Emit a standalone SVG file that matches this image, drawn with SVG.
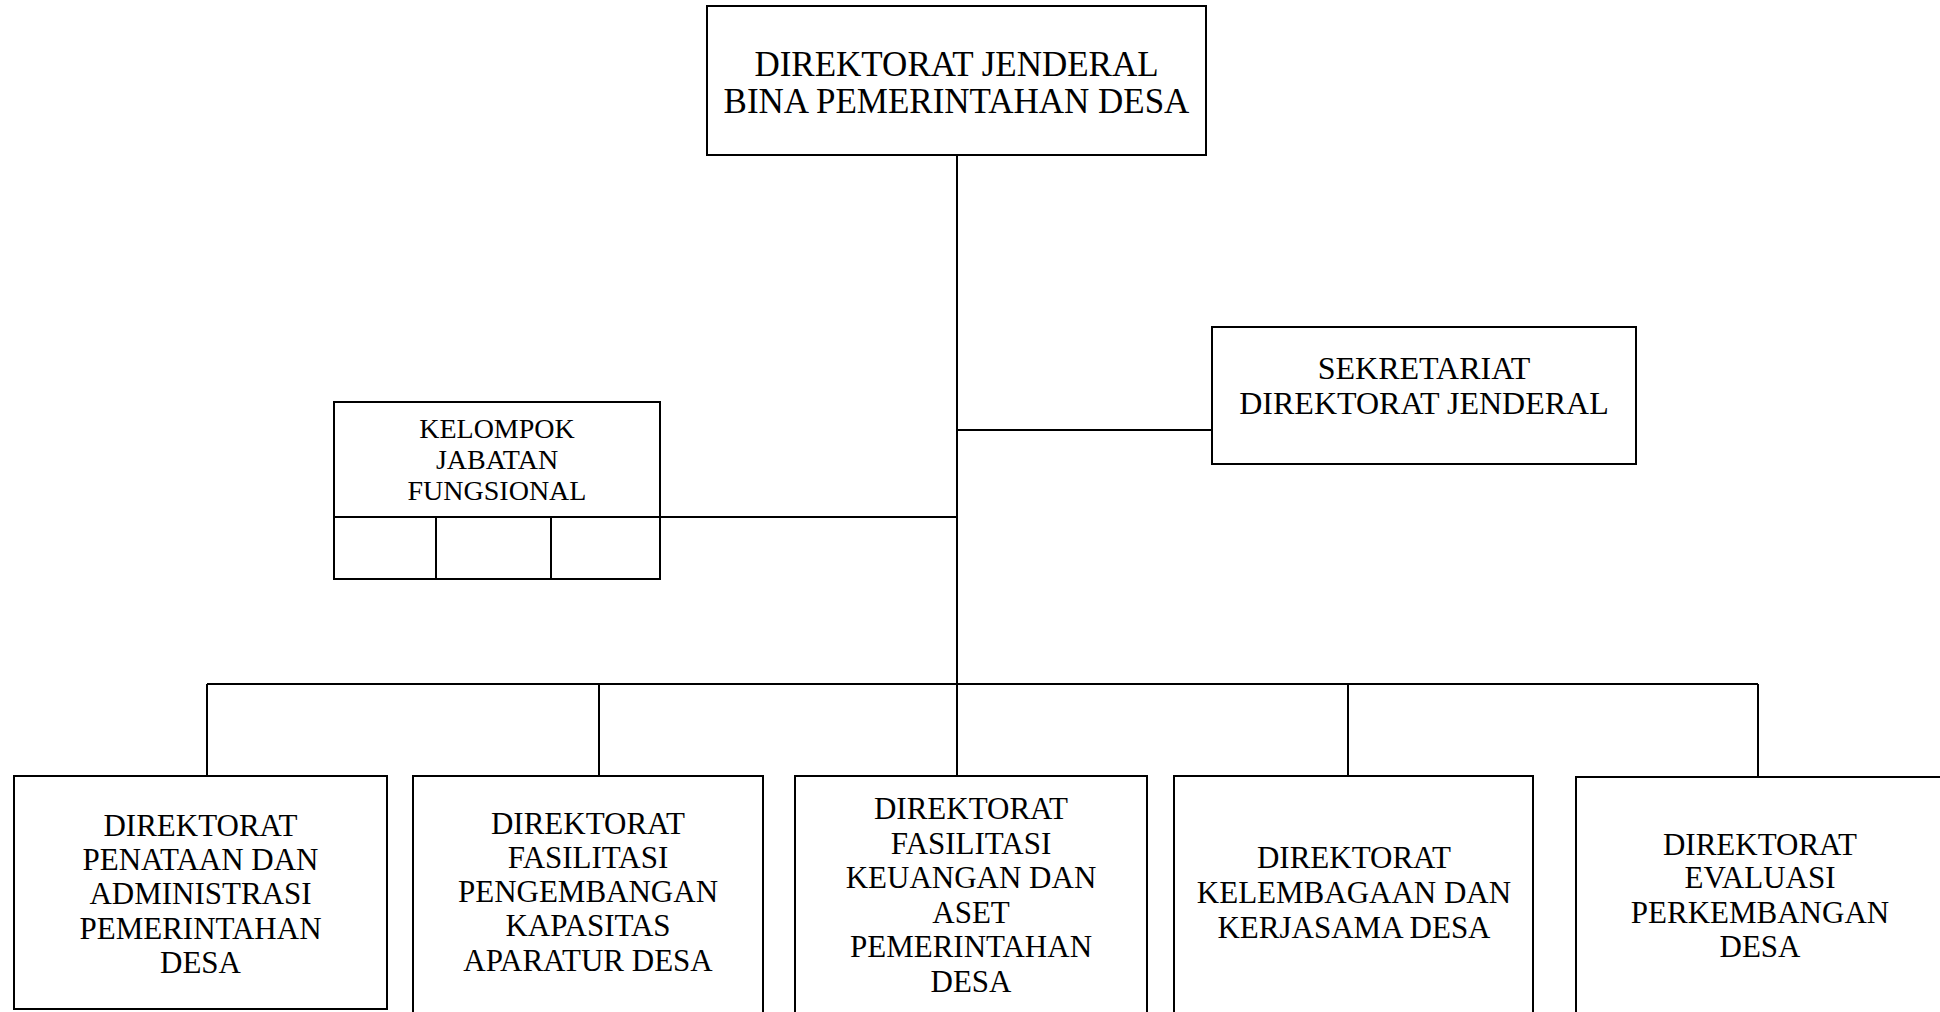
<svg xmlns="http://www.w3.org/2000/svg" width="1940" height="1012" viewBox="0 0 1940 1012">
<style>
.box{fill:#fff;stroke:#000;stroke-width:2}
.ln{stroke:#000;stroke-width:2;fill:none}
text{font-family:"Liberation Serif","DejaVu Serif",serif;fill:#000;text-anchor:middle}
.t34{font-size:35px}
.t32{font-size:32px}
.t30{font-size:31px}
.t28{font-size:28px}
</style>
<rect width="1940" height="1012" fill="#fff"/>
<g id="connectors">
<line class="ln" x1="957" y1="155" x2="957" y2="778"/>
<line class="ln" x1="957" y1="430" x2="1212" y2="430"/>
<line class="ln" x1="660" y1="517" x2="957" y2="517"/>
<line class="ln" x1="207" y1="684" x2="1758" y2="684"/>
<line class="ln" x1="207" y1="684" x2="207" y2="776"/>
<line class="ln" x1="599" y1="684" x2="599" y2="776"/>
<line class="ln" x1="1348" y1="684" x2="1348" y2="776"/>
<line class="ln" x1="1758" y1="684" x2="1758" y2="777"/>
</g>
<g id="dirjen">
<rect class="box" x="707" y="6" width="499" height="149"/>
<text class="t34" x="956.5" y="75.5">DIREKTORAT JENDERAL</text>
<text class="t34" x="956.5" y="112.5">BINA PEMERINTAHAN DESA</text>
</g>
<g id="sekretariat">
<rect class="box" x="1212" y="327" width="424" height="137"/>
<text class="t32" x="1424" y="379">SEKRETARIAT</text>
<text class="t32" x="1424" y="413.5">DIREKTORAT JENDERAL</text>
</g>
<g id="kelompok">
<rect class="box" x="334" y="402" width="326" height="177"/>
<line class="ln" x1="334" y1="517" x2="660" y2="517"/>
<line class="ln" x1="436" y1="517" x2="436" y2="579"/>
<line class="ln" x1="551" y1="517" x2="551" y2="579"/>
<text class="t28" x="497" y="437.5">KELOMPOK</text>
<text class="t28" x="497" y="468.5">JABATAN</text>
<text class="t28" x="497" y="499.5">FUNGSIONAL</text>
</g>
<g id="dir1">
<rect class="box" x="14" y="776" width="373" height="233"/>
<text class="t30" x="200.5" y="835.5">DIREKTORAT</text>
<text class="t30" x="200.5" y="869.5">PENATAAN DAN</text>
<text class="t30" x="200.5" y="903.5">ADMINISTRASI</text>
<text class="t30" x="200.5" y="938.5">PEMERINTAHAN</text>
<text class="t30" x="200.5" y="972.5">DESA</text>
</g>
<g id="dir2">
<rect class="box" x="413" y="776" width="350" height="250"/>
<text class="t30" x="588" y="833.5">DIREKTORAT</text>
<text class="t30" x="588" y="867.5">FASILITASI</text>
<text class="t30" x="588" y="901.5">PENGEMBANGAN</text>
<text class="t30" x="588" y="935.5">KAPASITAS</text>
<text class="t30" x="588" y="970.5">APARATUR DESA</text>
</g>
<g id="dir3">
<rect class="box" x="795" y="776" width="352" height="250"/>
<text class="t30" x="971" y="818.5">DIREKTORAT</text>
<text class="t30" x="971" y="853.5">FASILITASI</text>
<text class="t30" x="971" y="887.5">KEUANGAN DAN</text>
<text class="t30" x="971" y="922.5">ASET</text>
<text class="t30" x="971" y="956.5">PEMERINTAHAN</text>
<text class="t30" x="971" y="991.5">DESA</text>
</g>
<g id="dir4">
<rect class="box" x="1174" y="776" width="359" height="250"/>
<text class="t30" x="1354" y="867.5">DIREKTORAT</text>
<text class="t30" x="1354" y="902.5">KELEMBAGAAN DAN</text>
<text class="t30" x="1354" y="937.5">KERJASAMA DESA</text>
</g>
<g id="dir5">
<rect class="box" x="1576" y="777" width="370" height="250"/>
<text class="t30" x="1760" y="854.5">DIREKTORAT</text>
<text class="t30" x="1760" y="887.5">EVALUASI</text>
<text class="t30" x="1760" y="922.5">PERKEMBANGAN</text>
<text class="t30" x="1760" y="956.5">DESA</text>
</g>
</svg>
